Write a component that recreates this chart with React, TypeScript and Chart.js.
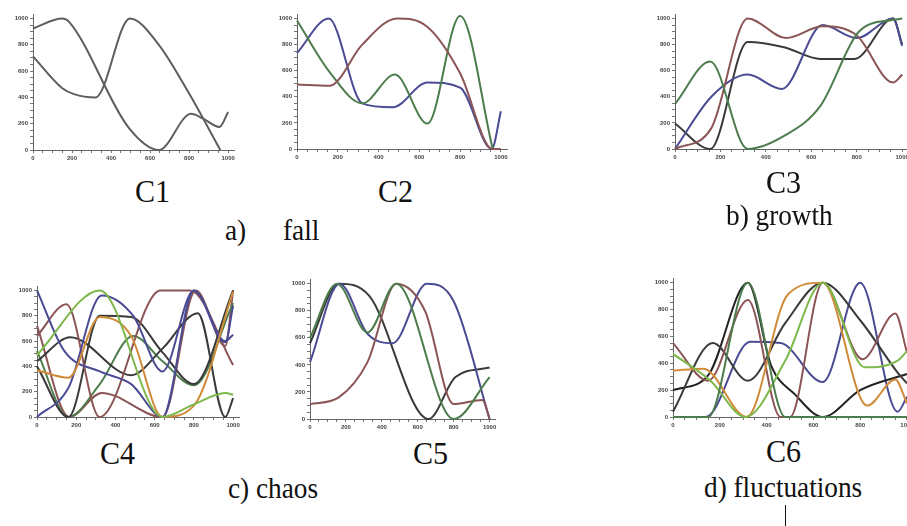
import React, { useEffect, useRef } from 'react';
import { Chart, registerables } from 'chart.js';
Chart.register(...registerables);

type Pt = [number, number];

// ---- data (x, y) per series ----
const C1_A: Pt[] = [[0, 925], [150, 1000], [185, 975], [490, 170], [645, 0], [810, 275], [870, 240], [955, 175], [1000, 290]];
const C1_B: Pt[] = [[0, 712], [150, 470], [210, 425], [320, 400], [497, 1000], [640, 810], [800, 430], [960, 0]];

const C2_BLUE: Pt[] = [[0, 735], [155, 1000], [320, 350], [470, 320], [640, 510], [800, 470], [955, 0], [1000, 290]];
const C2_BROWN: Pt[] = [[0, 495], [160, 485], [320, 800], [490, 1000], [640, 935], [800, 580], [960, 0], [1000, 0]];
const C2_GREEN: Pt[] = [[0, 985], [160, 590], [320, 350], [480, 570], [640, 195], [800, 1020], [960, 0]];

const C3_GREEN: Pt[] = [[0, 345], [155, 670], [320, 0], [480, 100], [640, 330], [810, 900], [960, 990], [1000, 1000]];
const C3_BROWN: Pt[] = [[0, 0], [160, 160], [320, 1000], [490, 850], [650, 940], [800, 870], [960, 510], [1000, 570]];
const C3_BLUE: Pt[] = [[0, 0], [160, 400], [320, 570], [470, 460], [650, 950], [800, 850], [960, 1000], [1000, 790]];
const C3_DARK: Pt[] = [[0, 195], [155, 0], [320, 820], [480, 780], [640, 690], [790, 690], [960, 1000], [1000, 800]];

const C4_LGREEN: Pt[] = [[0, 490], [320, 1000], [640, 0], [800, 100], [960, 190], [1000, 175]];
const C4_ORANGE: Pt[] = [[0, 370], [160, 310], [320, 790], [480, 640], [640, 0], [800, 90], [1000, 990]];
const C4_BLUE1: Pt[] = [[0, 1000], [140, 520], [320, 360], [480, 260], [640, 0], [800, 1000], [960, 600], [1000, 650]];
const C4_BLUE2: Pt[] = [[0, 0], [160, 230], [330, 960], [490, 800], [640, 360], [800, 1000], [960, 590], [1000, 880]];
const C4_BROWN1: Pt[] = [[0, 640], [150, 890], [320, 0], [630, 1000], [780, 1000], [1000, 410]];
const C4_DARK1: Pt[] = [[0, 400], [160, 0], [320, 800], [480, 790], [640, 510], [800, 260], [1000, 1000]];
const C4_DARK2: Pt[] = [[0, 440], [170, 630], [480, 330], [640, 540], [820, 820], [960, 0], [1000, 150]];
const C4_GREEN: Pt[] = [[0, 520], [160, 0], [320, 260], [490, 640], [640, 440], [800, 250], [1000, 900]];
const C4_BROWN2: Pt[] = [[0, 720], [165, 0], [330, 190], [640, 0], [810, 1000], [960, 560], [1000, 1000]];

const C5_GREEN: Pt[] = [[0, 600], [150, 1000], [320, 640], [480, 1000], [800, 0], [1000, 310]];
const C5_BLUE: Pt[] = [[0, 420], [165, 1000], [320, 630], [460, 560], [650, 1000], [800, 870], [1000, 0]];
const C5_DARK: Pt[] = [[0, 560], [160, 1000], [330, 910], [660, 0], [810, 310], [1000, 380]];
const C5_BROWN: Pt[] = [[0, 110], [160, 160], [320, 420], [480, 1000], [640, 800], [800, 110], [960, 140], [1000, 0]];

const C6_BLUE: Pt[] = [[0, 0], [140, 0], [330, 560], [460, 550], [640, 260], [800, 1000], [960, 40], [1000, 150]];
const C6_LGREEN: Pt[] = [[0, 470], [160, 270], [310, 0], [480, 420], [640, 1000], [820, 370], [960, 420], [1000, 490]];
const C6_GREEN: Pt[] = [[0, 0], [150, 0], [320, 1000], [480, 0], [1000, 0]];
const C6_BROWN: Pt[] = [[0, 550], [150, 270], [320, 870], [460, 0], [500, 0], [640, 1000], [810, 430], [950, 770], [1000, 480]];
const C6_ORANGE: Pt[] = [[0, 345], [130, 360], [315, 0], [490, 910], [640, 1000], [830, 85], [950, 280], [1000, 100]];
const C6_DARK: Pt[] = [[0, 40], [170, 550], [320, 270], [480, 700], [640, 1000], [800, 720], [960, 330], [1000, 250]];
const C6_BLACK: Pt[] = [[0, 200], [150, 310], [320, 1000], [420, 380], [520, 170], [640, 0], [800, 200], [1000, 320]];

const TICK_LABEL_STEP = 200;
const MINOR_STEP = 50;

// ---- styles ----
const GRAY = '#5e5e5e';
const BLUE = '#4b4b94';
const BROWN = '#8c5555';
const GREEN = '#4d7c4d';
const ORANGE = '#d08b3a';
const LGREEN = '#7cb84a';
const DARK = '#3a3a3a';

type Series = { pts: Pt[]; color: string };
type Geom = { l: number; x1000: number; y1000: number; b: number };

const PANELS: { g: Geom; series: Series[] }[] = [
  { g: { l: 33, x1000: 228, y1000: 16.7, b: 150 }, series: [{ pts: C1_A, color: GRAY }, { pts: C1_B, color: GRAY }] },
  { g: { l: 297, x1000: 501, y1000: 16.7, b: 149 }, series: [{ pts: C2_BROWN, color: BROWN }, { pts: C2_GREEN, color: GREEN }, { pts: C2_BLUE, color: BLUE }] },
  { g: { l: 675, x1000: 902, y1000: 16.7, b: 149 }, series: [{ pts: C3_GREEN, color: GREEN }, { pts: C3_BROWN, color: BROWN }, { pts: C3_BLUE, color: BLUE }, { pts: C3_DARK, color: DARK }] },
  { g: { l: 36.7, x1000: 233, y1000: 289.3, b: 417.7 }, series: [
    { pts: C4_LGREEN, color: LGREEN }, { pts: C4_ORANGE, color: ORANGE }, { pts: C4_BLUE1, color: BLUE }, { pts: C4_BLUE2, color: BLUE },
    { pts: C4_BROWN1, color: BROWN }, { pts: C4_DARK1, color: DARK }, { pts: C4_DARK2, color: DARK }, { pts: C4_GREEN, color: GREEN }, { pts: C4_BROWN2, color: BROWN }] },
  { g: { l: 310, x1000: 490, y1000: 281.7, b: 418.3 }, series: [{ pts: C5_GREEN, color: GREEN }, { pts: C5_BROWN, color: BROWN }, { pts: C5_BLUE, color: BLUE }, { pts: C5_DARK, color: DARK }] },
  { g: { l: 672.7, x1000: 906.7, y1000: 280.7, b: 416.7 }, series: [
    { pts: C6_GREEN, color: GREEN }, { pts: C6_LGREEN, color: LGREEN }, { pts: C6_ORANGE, color: ORANGE }, { pts: C6_BROWN, color: BROWN },
    { pts: C6_DARK, color: DARK }, { pts: C6_BLACK, color: '#222' }, { pts: C6_BLUE, color: BLUE }] },
];

const LABELS: { text: string; x: number; base: number; size: number }[] = [
  { text: 'C1', x: 135, base: 202, size: 32 },
  { text: 'C2', x: 378, base: 202, size: 32 },
  { text: 'C3', x: 766, base: 193, size: 32 },
  { text: 'a)', x: 225, base: 240, size: 29 },
  { text: 'fall', x: 283, base: 240, size: 29 },
  { text: 'b) growth', x: 726, base: 225, size: 29 },
  { text: 'C4', x: 100, base: 464, size: 32 },
  { text: 'C5', x: 413, base: 464, size: 32 },
  { text: 'C6', x: 766, base: 462, size: 32 },
  { text: 'c) chaos', x: 228, base: 498, size: 29 },
  { text: 'd) fluctuations', x: 704, base: 497, size: 29 },
];

const YW = 26, PT = 4, PR = 6, XH = 16;

function Panel({ g, series }: { g: Geom; series: Series[] }) {
  const ref = useRef<HTMLCanvasElement>(null);
  const ppy = (g.b - g.y1000) / 1000;
  const top = g.y1000 - 30 * ppy;
  const ppx = (g.x1000 - g.l) / 1000;
  const right = g.l + 1030 * ppx;
  const cl = g.l - YW;
  const ct = top - PT;
  const cw = Math.round(right - g.l + YW + PR);
  const ch = Math.round(g.b - top + PT + XH);

  useEffect(() => {
    const tickFont = { size: 6, family: '"Liberation Sans", Arial, sans-serif', weight: 'bold' as const };
    const axisCommon = (isX: boolean) => ({
      type: 'linear' as const,
      min: 0,
      max: 1030,
      afterFit: (s: any) => {
        if (isX) s.height = XH;
        else s.width = YW;
      },
      ticks: {
        stepSize: MINOR_STEP,
        includeBounds: false,
        autoSkip: false,
        maxRotation: 0,
        padding: 2,
        font: tickFont,
        color: '#444',
        callback: (v: any) => (Number(v) % TICK_LABEL_STEP === 0 ? String(v) : ''),
      },
      grid: { display: true, drawOnChartArea: false, drawTicks: true, tickLength: 3, color: '#777', lineWidth: 1 },
      border: { display: true, color: '#666', width: 1 },
    });
    const chart = new Chart(ref.current!, {
      type: 'line',
      data: {
        datasets: series.map((s) => ({
          data: s.pts.map(([x, y]) => ({ x, y })),
          borderColor: s.color,
          borderWidth: 2,
          pointRadius: 0,
          cubicInterpolationMode: 'monotone' as const,
          fill: false,
          clip: 6,
        })),
      },
      options: {
        animation: false,
        responsive: false,
        events: [],
        layout: { padding: { left: 0, top: PT, right: PR, bottom: 0 } },
        plugins: { legend: { display: false }, tooltip: { enabled: false } },
        scales: { x: axisCommon(true) as any, y: axisCommon(false) as any },
      },
    });
    return () => chart.destroy();
  }, []);

  return (
    <canvas
      ref={ref}
      width={cw}
      height={ch}
      style={{ position: 'absolute', left: cl, top: ct, width: cw, height: ch }}
    />
  );
}

function Label({ text, x, base, size }: { text: string; x: number; base: number; size: number }) {
  return (
    <div
      style={{
        position: 'absolute',
        left: x,
        top: base - 0.8375 * size,
        fontSize: size,
        lineHeight: `${size}px`,
        fontFamily: '"Liberation Serif", "Times New Roman", serif',
        whiteSpace: 'pre',
        color: '#111',
        transform: 'scaleX(0.94)',
        transformOrigin: 'left top',
      }}
    >
      {text}
    </div>
  );
}

export default function App() {
  return (
    <div style={{ position: 'absolute', left: 0, top: 0, width: 907, height: 526, background: '#fff', overflow: 'hidden' }}>
      {PANELS.map((p, i) => (
        <Panel key={i} g={p.g} series={p.series} />
      ))}
      {LABELS.map((l, i) => (
        <Label key={i} {...l} />
      ))}
      <div style={{ position: 'absolute', left: 785, top: 505, width: 1, height: 21, background: '#111' }} />
    </div>
  );
}
